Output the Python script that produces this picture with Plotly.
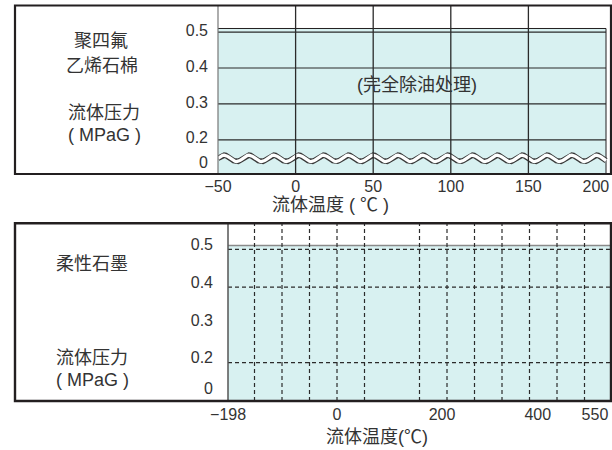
import numpy as np
import plotly.graph_objects as go

W, H = 612, 450

# ---------------- data ----------------
ptfe_temp = [-50, 200]              # 聚四氟乙烯石棉 temperature range (°C)
ptfe_pressure = [0.51, 0.51]        # MPaG (fill top)
graphite_temp = [-198, 550]         # 柔性石墨 temperature range (°C)
graphite_pressure = [0.51, 0.51]    # MPaG (fill top)

top_x_tickvals = [-50, 0, 50, 100, 150, 193.5]
top_x_ticktext = ["−50", "0", "50", "100", "150", "200"]
top_y_tickvals = [0.133, 0.2, 0.3, 0.4, 0.5]
top_y_ticktext = ["0", "0.2", "0.3", "0.4", "0.5"]
top_x_grid = [0, 50, 100, 150]
top_y_grid = [0.2, 0.3, 0.4, 0.5]

bot_x_tickvals = [-198, 0, 191, 365, 469]
bot_x_ticktext = ["−198", "0", "200", "400", "550"]
bot_y_tickvals = [0.12, 0.2, 0.3, 0.4, 0.5]
bot_y_ticktext = ["0", "0.2", "0.3", "0.4", "0.5"]
bot_x_grid = [-150, -100, -50, 0, 50, 150, 200, 250, 300, 350, 400, 450]
bot_y_grid = [0.2, 0.4, 0.5]

# axis-break decoration (wavy line) parameters
break_level = 0.1485
break_amp = 0.0088
break_period = 16

# ---------------- styles ----------------
FILL = "#d8f1f1"
DARK = "#231f20"
GRID = "#2b2b2b"
GREY = "#8a8a8a"
TXT = "#333333"
FONT = "Liberation Sans, Noto Sans CJK SC, sans-serif"


def px_x(p):
    return p / W


def px_y(p):
    return 1 - p / H


fig = go.Figure()

# ---- top panel fill ----
fig.add_trace(go.Scatter(
    x=ptfe_temp + [ptfe_temp[-1]], y=ptfe_pressure + [0],
    mode="lines", fill="tozeroy", fillcolor=FILL,
    line=dict(color=DARK, width=1), xaxis="x", yaxis="y",
    hoverinfo="skip", showlegend=False))

# ---- axis-break wave (decoration) ----
wave_x = np.arange(ptfe_temp[0], ptfe_temp[-1] + 0.01, 1.0)
wave_y = break_level + break_amp * np.sin(2 * np.pi * (wave_x - ptfe_temp[0]) / break_period)
fig.add_trace(go.Scatter(x=wave_x, y=wave_y, mode="lines",
                         line=dict(color="#3a3a3a", width=5.5),
                         xaxis="x", yaxis="y", hoverinfo="skip", showlegend=False))
fig.add_trace(go.Scatter(x=wave_x, y=wave_y, mode="lines",
                         line=dict(color="white", width=3.3),
                         xaxis="x", yaxis="y", hoverinfo="skip", showlegend=False))

# ---- bottom panel fill ----
fig.add_trace(go.Scatter(
    x=graphite_temp, y=graphite_pressure,
    mode="lines", fill="tozeroy", fillcolor=FILL,
    line=dict(color=GREY, width=1.6), xaxis="x2", yaxis="y2",
    hoverinfo="skip", showlegend=False))

shapes = []
# top gridlines
for g in top_y_grid:
    shapes.append(dict(type="line", xref="x", yref="y", x0=ptfe_temp[0], x1=ptfe_temp[-1],
                       y0=g, y1=g, line=dict(color=GRID, width=1.2), layer="above"))
for g in top_x_grid:
    shapes.append(dict(type="line", xref="x", yref="y domain", x0=g, x1=g,
                       y0=0, y1=1, line=dict(color=GRID, width=1.3), layer="above"))
# top plot left border
shapes.append(dict(type="line", xref="paper", yref="paper", x0=px_x(218), x1=px_x(218),
                   y0=px_y(174), y1=px_y(5.5), line=dict(color="#777", width=1.2), layer="above"))
# bottom gridlines (dashed)
for g in bot_y_grid:
    shapes.append(dict(type="line", xref="x2 domain", yref="y2", x0=0, x1=1,
                       y0=g, y1=g, line=dict(color=GRID, width=1.2, dash="4px,3px"), layer="above"))
for g in bot_x_grid:
    shapes.append(dict(type="line", xref="x2", yref="y2 domain", x0=g, x1=g,
                       y0=0, y1=1, line=dict(color=GRID, width=1.2, dash="4px,3px"), layer="above"))
# bottom plot left border
shapes.append(dict(type="line", xref="paper", yref="paper", x0=px_x(228), x1=px_x(228),
                   y0=px_y(401), y1=px_y(223.3), line=dict(color="#555", width=1.5), layer="above"))
# outer boxes
shapes.append(dict(type="rect", xref="paper", yref="paper", x0=px_x(15), x1=px_x(611),
                   y0=px_y(174), y1=px_y(5.5), line=dict(color=DARK, width=2.2), layer="above"))
shapes.append(dict(type="rect", xref="paper", yref="paper", x0=px_x(15), x1=px_x(611),
                   y0=px_y(401), y1=px_y(223.3), line=dict(color=DARK, width=2.4), layer="above"))

tickfont = dict(family=FONT, size=16, color=TXT)

# top: x domain 218..611 px, -50 at 218, 200 at 606 -> 1.552 px/unit
top_xmax = -50 + (611 - 218) / 1.552
# bottom: 0 at 337, 0.55 px/unit, domain 228..611
bot_xmin = (228 - 337) / 0.55
bot_xmax = (611 - 337) / 0.55

common = dict(showgrid=False, zeroline=False, showline=False, ticks="",
              tickfont=tickfont, fixedrange=True, automargin=False, tickmode="array")

fig.update_layout(
    template="none",
    width=W, height=H, autosize=False,
    margin=dict(l=0, r=0, t=0, b=0, pad=0, autoexpand=False),
    paper_bgcolor="white", plot_bgcolor="white",
    showlegend=False,
    xaxis=dict(domain=[px_x(218), px_x(611)], range=[-50, top_xmax], anchor="y",
               tickvals=top_x_tickvals, ticktext=top_x_ticktext,
               ticklabelstandoff=1, **common),
    yaxis=dict(domain=[px_y(174), px_y(5.5)], range=[0.105, 0.574], anchor="x",
               tickvals=top_y_tickvals, ticktext=top_y_ticktext,
               ticklabelstandoff=9, ticklabelshift=-2, **common),
    xaxis2=dict(domain=[px_x(228), px_x(611)], range=[bot_xmin, bot_xmax], anchor="y2",
                tickvals=bot_x_tickvals, ticktext=bot_x_ticktext,
                ticklabelstandoff=2, **common),
    yaxis2=dict(domain=[px_y(401), px_y(223.3)], range=[0.0987, 0.5688], anchor="x2",
                tickvals=bot_y_tickvals, ticktext=bot_y_ticktext,
                ticklabelstandoff=14, ticklabelshift=-5, **common),
    shapes=shapes,
)

labels = [
    ("聚四氟", 101, 41),
    ("乙烯石棉", 102, 66),
    ("流体压力", 104, 113),
    ("( MPaG )", 104, 135),
    ("(完全除油处理)", 417, 85),
    ("流体温度 ( ℃ )", 330, 205),
    ("柔性石墨", 92, 264),
    ("流体压力", 92, 358),
    ("( MPaG )", 92, 380),
    ("流体温度(℃)", 377, 437),
]
for text, x, y in labels:
    fig.add_annotation(text=text, x=px_x(x), y=px_y(y), xref="paper", yref="paper",
                       xanchor="center", yanchor="middle", showarrow=False,
                       font=dict(family=FONT, size=18, color=TXT))

fig.write_html(
    "out.html",
    config={"displayModeBar": False, "responsive": False},
    post_script="document.body.style.margin='0';document.body.style.overflow='hidden';",
)
